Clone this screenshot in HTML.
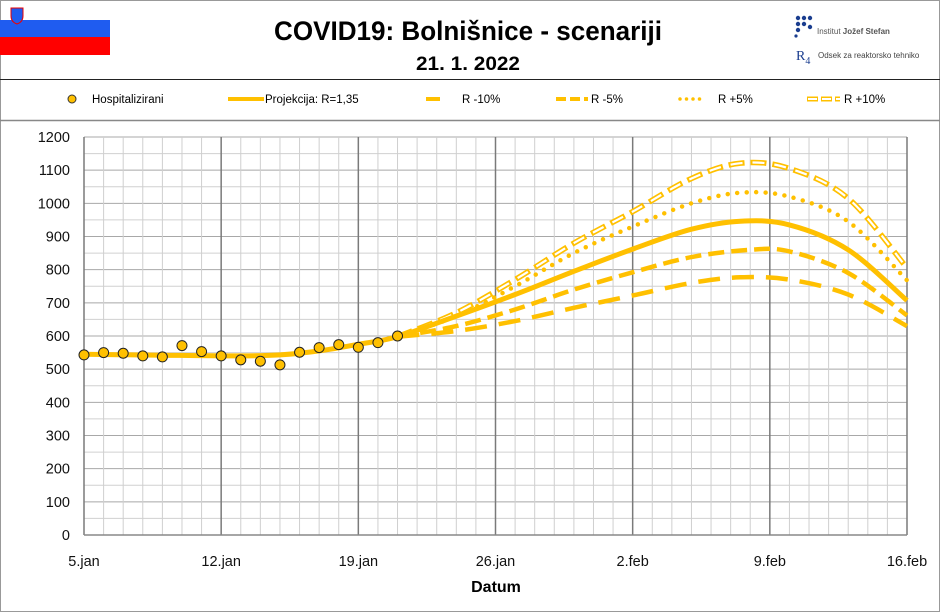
<!DOCTYPE html>
<html><head><meta charset="utf-8"><style>
body{margin:0;background:#fff}
svg{display:block;font-family:"Liberation Sans",sans-serif}
</style></head><body>
<svg id="s" width="940" height="612" viewBox="0 0 940 612" xmlns="http://www.w3.org/2000/svg">
<rect x="0.5" y="0.5" width="939" height="611" fill="#fff" stroke="#999"/>
<rect x="0" y="20" width="110" height="17" fill="#1f5cf0"/>
<rect x="0" y="37" width="110" height="18" fill="#ff0000"/>
<path d="M11 8 h12 v8 q0 6 -6 8 q-6 -2 -6 -8z" fill="#1f5cf0" stroke="#e00" stroke-width="1"/>
<text x="468" y="40" text-anchor="middle" font-size="27" font-weight="bold" textLength="388" lengthAdjust="spacingAndGlyphs">COVID19: Bolnišnice - scenariji</text>
<text x="468" y="70" text-anchor="middle" font-size="19" font-weight="bold" textLength="104" lengthAdjust="spacingAndGlyphs">21. 1. 2022</text>
<g fill="#1a3d8f"><circle cx="798" cy="18" r="2.2"/><circle cx="804" cy="18" r="2.2"/><circle cx="810" cy="18" r="2.2"/><circle cx="798" cy="24" r="2.2"/><circle cx="804" cy="24" r="2.2"/><circle cx="798" cy="30" r="2.2"/><circle cx="810" cy="27" r="2.2"/><circle cx="796" cy="36" r="1.6"/></g>
<text x="817" y="34" font-size="8" fill="#555">Institut <tspan font-weight="bold">Jožef Stefan</tspan></text>
<text x="796" y="60" font-size="14" fill="#1a3d8f" font-family="Liberation Serif,serif">R<tspan font-size="10" dy="4">4</tspan></text>
<text x="818" y="58" font-size="8" fill="#444">Odsek za reaktorsko tehniko</text>
<line x1="0" y1="79.5" x2="940" y2="79.5" stroke="#222" stroke-width="1"/>
<line x1="0" y1="120.5" x2="940" y2="120.5" stroke="#888" stroke-width="1.5"/>
<g font-size="11.5" fill="#000">
<circle cx="72" cy="99" r="4" fill="#FFC000" stroke="#333"/>
<text x="92" y="103">Hospitalizirani</text>
<line x1="228" y1="99" x2="264" y2="99" stroke="#FFC000" stroke-width="4"/>
<text x="265" y="103">Projekcija: R=1,35</text>
<line x1="426" y1="99" x2="440" y2="99" stroke="#FFC000" stroke-width="4"/>
<text x="462" y="103">R -10%</text>
<line x1="556" y1="99" x2="588" y2="99" stroke="#FFC000" stroke-width="4" stroke-dasharray="10,4"/>
<text x="591" y="103">R -5%</text>
<line x1="680" y1="99" x2="705" y2="99" stroke="#FFC000" stroke-width="3.5" stroke-dasharray="0,6.5" stroke-linecap="round"/>
<text x="718" y="103">R +5%</text>
<line x1="807" y1="99" x2="840" y2="99" stroke="#FFC000" stroke-width="5" stroke-dasharray="11,3"/>
<line x1="807" y1="99" x2="840" y2="99" stroke="#fff" stroke-width="2" stroke-dasharray="9,5" stroke-dashoffset="-1"/>
<text x="844" y="103">R +10%</text>
</g>
<g id="grid"></g>
<g id="curves" fill="none" stroke="#FFC000" stroke-width="4.5"></g>
<g id="pts"></g>
<g id="labels" font-size="14.5" fill="#111"></g>
<text x="496" y="592" text-anchor="middle" font-size="16" font-weight="bold">Datum</text>
</svg>
<script>
var X0=84,DX=823/42,Y0=535,DY=398/1200;
function X(d){return X0+d*DX}function Y(v){return Y0-v*DY}
var ns="http://www.w3.org/2000/svg";
function el(p,t,a,txt){var e=document.createElementNS(ns,t);for(var k in a)e.setAttribute(k,a[k]);if(txt!=null)e.textContent=txt;document.getElementById(p).appendChild(e);return e}
for(var v=0;v<=1200;v+=50){var y=Y(v);el("grid","line",{x1:X0,x2:X(42),y1:y,y2:y,stroke:v%100?"#d0d0d0":"#a8a8a8","stroke-width":1});
 if(v%100==0)el("labels","text",{x:70,y:y+5,"text-anchor":"end"},String(v));}
for(var d=0;d<=42;d++){var x=X(d);el("grid","line",{x1:x,x2:x,y1:Y(1200),y2:Y0,stroke:d%7?"#cfcfcf":"#7a7a7a","stroke-width":d%7?1:1.5});}
el("grid","line",{x1:X0,x2:X(42),y1:Y0,y2:Y0,stroke:"#888","stroke-width":1.5});
var lab=["5.jan","12.jan","19.jan","26.jan","2.feb","9.feb","16.feb"];
for(var i=0;i<7;i++)el("labels","text",{x:X(i*7),y:566,"text-anchor":"middle"},lab[i]);
function cr(pts){var d="M"+X(pts[0][0]).toFixed(1)+" "+Y(pts[0][1]).toFixed(1);
 for(var i=0;i<pts.length-1;i++){var p0=pts[Math.max(i-1,0)],p1=pts[i],p2=pts[i+1],p3=pts[Math.min(i+2,pts.length-1)];
  var a=[X(p1[0]),Y(p1[1])],b=[X(p2[0]),Y(p2[1])],a0=[X(p0[0]),Y(p0[1])],b3=[X(p3[0]),Y(p3[1])];
  var c1=[a[0]+(b[0]-a0[0])/6,a[1]+(b[1]-a0[1])/6],c2=[b[0]-(b3[0]-a[0])/6,b[1]-(b3[1]-a[1])/6];
  d+=" C"+c1[0].toFixed(1)+" "+c1[1].toFixed(1)+" "+c2[0].toFixed(1)+" "+c2[1].toFixed(1)+" "+b[0].toFixed(1)+" "+b[1].toFixed(1);}
 return d}
var m10=[[16,598],[19,615],[22,645],[25,685],[28,722],[31,760],[33.5,777],[36,770],[39,725],[42,630]];
var m5=[[16,598],[19,630],[22,680],[25,740],[28,792],[31,838],[34,860],[36,855],[39,790],[42,662]];
var p5=[[16,598],[19,660],[22,750],[25,850],[28,930],[31,1000],[33.5,1032],[36,1020],[39,945],[42,768]];
var p10=[[16,598],[19,670],[22,770],[25,880],[28,975],[31,1075],[33.5,1121],[36,1105],[39,1015],[42,805]];
var base=[[0,545],[4,542],[8,540],[10,543],[12,555],[14,575],[16,598],[19,660],[22,725],[25,795],[28,862],[31,922],[33.5,946],[36,935],[39,860],[42,707]];
el("curves","path",{d:cr(m10),"stroke-dasharray":"22,12"});
el("curves","path",{d:cr(m5),"stroke-dasharray":"16,7"});
el("curves","path",{d:cr(p5),"stroke-dasharray":"0,9.5","stroke-linecap":"round","stroke-width":4.5});
el("curves","path",{d:cr(p10),"stroke-dasharray":"16,6","stroke-width":5.5});
el("curves","path",{d:cr(p10),"stroke-dasharray":"12,10","stroke-dashoffset":"-2",stroke:"#fff","stroke-width":2.2});
el("curves","path",{d:cr(base),"stroke-width":5});
var h=[543,550,548,540,537,571,553,540,528,524,513,551,565,574,566,580,600];
for(var i=0;i<h.length;i++)el("pts","circle",{cx:X(i),cy:Y(h[i]),r:5,fill:"#FFC000",stroke:"#222","stroke-width":1});
</script>
</body></html>
